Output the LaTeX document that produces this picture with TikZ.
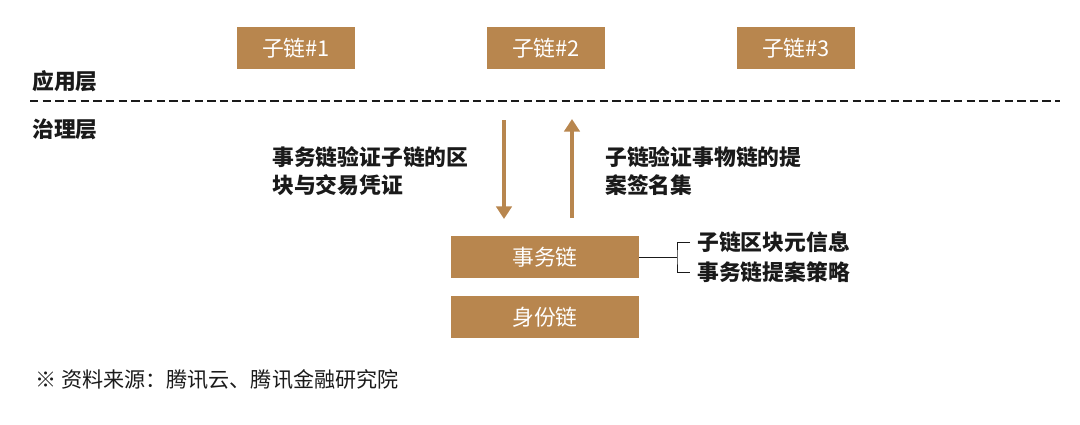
\documentclass[tikz,border=0pt]{standalone}
\usepackage{fontspec}
\setmainfont{Noto Sans CJK SC}
\usetikzlibrary{arrows.meta}
\definecolor{brn}{HTML}{B8864E}
\definecolor{txt}{HTML}{1A1A1A}
\tikzset{
	chainbox/.style={fill=brn, text=white, minimum width=4.7cm, minimum height=1.05cm, inner sep=0pt, font=\fontsize{15.5}{18}\selectfont},
	subbox/.style={fill=brn, text=white, minimum width=2.95cm, minimum height=1.05cm, inner sep=0pt, font=\fontsize{15.5}{18}\selectfont},
	lbl/.style={text=txt, inner sep=0pt, font=\fontsize{15.5}{20}\selectfont\bfseries},
	flow/.style={brn, line width=3pt, -{Triangle[length=9pt,width=11pt]}}
}
\begin{document}
\begin{tikzpicture}[x=0.025cm, y=-0.025cm]
	\useasboundingbox (0,0) rectangle (1080,424);
	% application layer
	\foreach \i/\x in {1/296,2/546,3/796}
		\node[subbox] (sub\i) at (\x,48) {子链\#\i};
	\node[lbl, anchor=west] (app) at (32,81) {应用层};
	\draw[line width=1.4pt, dash pattern=on 6pt off 3pt, txt] (30,101) -- (1060,101);
	\node[lbl, anchor=west] (gov) at (32,129) {治理层};
	% arrows
	\coordinate (dtop) at (504,120);
	\coordinate (dbot) at (504,219);
	\coordinate (utop) at (572,119);
	\coordinate (ubot) at (572,218);
	\draw[flow] (dtop) -- (dbot);
	\draw[flow] (ubot) -- (utop);
	\node[lbl, anchor=north west, align=left] (down) at (272,146) {事务链验证子链的区\\块与交易凭证};
	\node[lbl, anchor=north west, align=left] (up) at (605,146) {子链验证事物链的提\\案签名集};
	% chains
	\node[chainbox] (tx) at (545,257) {事务链};
	\node[chainbox] (id) at (545,317) {身份链};
	\node[lbl, anchor=west] (meta) at (697,242) {子链区块元信息};
	\node[lbl, anchor=west] (pol) at (697,272) {事务链提案策略};
	\coordinate (br) at (677,257);
	\coordinate (bt) at (690,242);
	\coordinate (bb) at (690,272);
	\draw[txt, line width=0.7pt] (tx.east) -- (br);
	\draw[txt, line width=0.7pt] (bt) -| (br) |- (bb);
	\node[anchor=west, inner sep=0pt, text=txt, font=\fontsize{15}{18}\selectfont] (src) at (35,380) {※ 资料来源：腾讯云、腾讯金融研究院};
\end{tikzpicture}
\end{document}
